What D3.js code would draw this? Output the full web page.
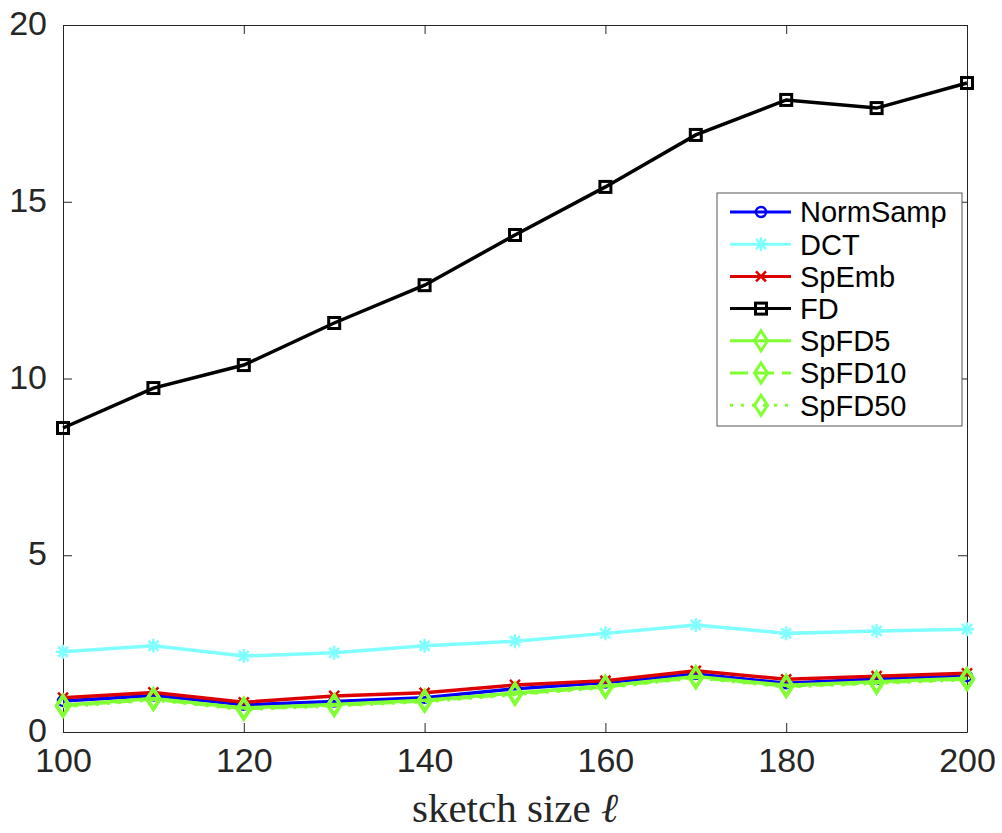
<!DOCTYPE html>
<html>
<head>
<meta charset="utf-8">
<script src="https://cdn.jsdelivr.net/npm/d3@7"></script>
<style>
body { margin: 0; background: #fff; }
svg { display: block; }
</style>
</head>
<body>
<svg id="chart"></svg>
<script>
// ====================== DATA ======================
var sketchSizes = [100, 110, 120, 130, 140, 150, 160, 170, 180, 190, 200];
var normSamp = [0.88, 1.03, 0.77, 0.86, 0.97, 1.22, 1.40, 1.64, 1.38, 1.50, 1.58];
var dct      = [2.27, 2.44, 2.15, 2.24, 2.44, 2.57, 2.79, 3.03, 2.79, 2.86, 2.91];
var spEmb    = [0.97, 1.12, 0.84, 1.02, 1.11, 1.33, 1.45, 1.73, 1.49, 1.58, 1.66];
var fd       = [8.60, 9.73, 10.38, 11.57, 12.64, 14.06, 15.42, 16.89, 17.88, 17.65, 18.36];
var spFD5    = [0.76, 0.95, 0.68, 0.78, 0.90, 1.10, 1.30, 1.57, 1.32, 1.42, 1.52];
var spFD10   = [0.74, 0.93, 0.66, 0.76, 0.88, 1.08, 1.28, 1.55, 1.30, 1.40, 1.50];
var spFD50   = [0.72, 0.91, 0.64, 0.74, 0.86, 1.06, 1.26, 1.53, 1.28, 1.38, 1.48];
var xTicks = [100, 120, 140, 160, 180, 200];
var yTicks = [0, 5, 10, 15, 20];
var seriesNames = ["NormSamp", "DCT", "SpEmb", "FD", "SpFD5", "SpFD10", "SpFD50"];
// ==================================================

var width = 1002, height = 833;
var plotLeft = 63, plotTop = 25, plotRight = 967, plotBottom = 732;
var axisColor = "#262626";

var series = [
  {name: seriesNames[0], values: normSamp, color: "#0000ff", marker: "circle", dash: null},
  {name: seriesNames[1], values: dct,      color: "#80ffff", marker: "asterisk", dash: null},
  {name: seriesNames[2], values: spEmb,    color: "#dd0000", marker: "x", dash: null},
  {name: seriesNames[3], values: fd,       color: "#000000", marker: "square", dash: null},
  {name: seriesNames[4], values: spFD5,    color: "#80ff33", marker: "diamond", dash: null},
  {name: seriesNames[5], values: spFD10,   color: "#80ff33", marker: "diamond", dash: "18,8"},
  {name: seriesNames[6], values: spFD50,   color: "#80ff33", marker: "diamond", dash: "3,8"}
];

var svg = d3.select("#chart").attr("width", width).attr("height", height);

var xs = d3.scaleLinear().domain([100, 200]).range([plotLeft, plotRight]);
var ys = d3.scaleLinear().domain([0, 20]).range([plotBottom, plotTop]);

// marker drawing
function drawMarker(g, type, cx, cy, color) {
  var m = g.append("g").attr("transform", "translate(" + cx + "," + cy + ")")
    .attr("fill", "none").attr("stroke", color).attr("stroke-width", 2.5);
  if (type === "circle") {
    m.append("circle").attr("r", 5);
  } else if (type === "square") {
    m.append("rect").attr("x", -5.5).attr("y", -5.5).attr("width", 11).attr("height", 11).attr("stroke-width", 3);
  } else if (type === "diamond") {
    m.append("path").attr("d", "M0,-10L6.5,0L0,10L-6.5,0Z").attr("stroke-width", 3);
  } else if (type === "x") {
    m.append("path").attr("d", "M-5,-5L5,5M-5,5L5,-5");
  } else if (type === "asterisk") {
    m.append("path").attr("d", "M0,-7L0,7M-7,0L7,0M-5,-5L5,5M-5,5L5,-5");
  }
}

// axes (inside ticks, mirrored)
var axL = svg.append("g").attr("transform", "translate(" + plotLeft + ",0)")
  .call(d3.axisLeft(ys).tickValues(yTicks).tickSize(-9).tickSizeOuter(0).tickPadding(16).tickFormat(d3.format("d")));
var axR = svg.append("g").attr("transform", "translate(" + plotRight + ",0)")
  .call(d3.axisRight(ys).tickValues(yTicks).tickSize(-9).tickSizeOuter(0).tickFormat(""));
var axB = svg.append("g").attr("transform", "translate(0," + plotBottom + ")")
  .call(d3.axisBottom(xs).tickValues(xTicks).tickSize(-9).tickSizeOuter(0).tickPadding(16).tickFormat(d3.format("d")));
var axT = svg.append("g").attr("transform", "translate(0," + plotTop + ")")
  .call(d3.axisTop(xs).tickValues(xTicks).tickSize(-9).tickSizeOuter(0).tickFormat(""));

[axL, axR, axB, axT].forEach(function(a) {
  a.selectAll(".domain").attr("stroke", axisColor).attr("stroke-width", 1);
  a.selectAll(".tick line").attr("stroke", axisColor).attr("stroke-width", 1);
  a.selectAll(".tick text").attr("fill", axisColor)
    .style("font-family", "'Liberation Sans', Arial, sans-serif").style("font-size", "34px");
});
axL.selectAll(".tick text").attr("dy", "0.28em");

// lines
var line = d3.line()
  .x(function(d, i) { return xs(sketchSizes[i]); })
  .y(function(d) { return ys(d); });

var plot = svg.append("g");
series.forEach(function(s) {
  plot.append("path")
    .datum(s.values)
    .attr("fill", "none")
    .attr("stroke", s.color)
    .attr("stroke-width", 3.5)
    .attr("stroke-dasharray", s.dash)
    .attr("d", line);
  s.values.forEach(function(v, i) {
    drawMarker(plot, s.marker, xs(sketchSizes[i]), ys(v), s.color);
  });
});

// axis label
svg.append("text")
  .attr("x", (plotLeft + plotRight) / 2)
  .attr("y", 822)
  .attr("text-anchor", "middle")
  .attr("fill", axisColor)
  .style("font-family", "'Liberation Serif', 'Times New Roman', serif")
  .style("font-size", "41px")
  .html("sketch size <tspan font-style='italic'>ℓ</tspan>");

// legend
var legend = svg.append("g");
legend.append("rect")
  .attr("x", 717).attr("y", 193).attr("width", 245).attr("height", 233)
  .attr("fill", "#fff").attr("stroke", "#555").attr("stroke-width", 1);
series.forEach(function(s, i) {
  var cy = 212 + i * 32.2;
  legend.append("line")
    .attr("x1", 730).attr("x2", 791).attr("y1", cy).attr("y2", cy)
    .attr("stroke", s.color).attr("stroke-width", 3)
    .attr("stroke-dasharray", s.dash);
  drawMarker(legend, s.marker, 761, cy, s.color);
  legend.append("text")
    .attr("x", 800).attr("y", cy).attr("dy", "0.36em")
    .attr("fill", "#000")
    .style("font-family", "'Liberation Sans', Arial, sans-serif")
    .style("font-size", "29px")
    .text(s.name);
});
</script>
</body>
</html>
